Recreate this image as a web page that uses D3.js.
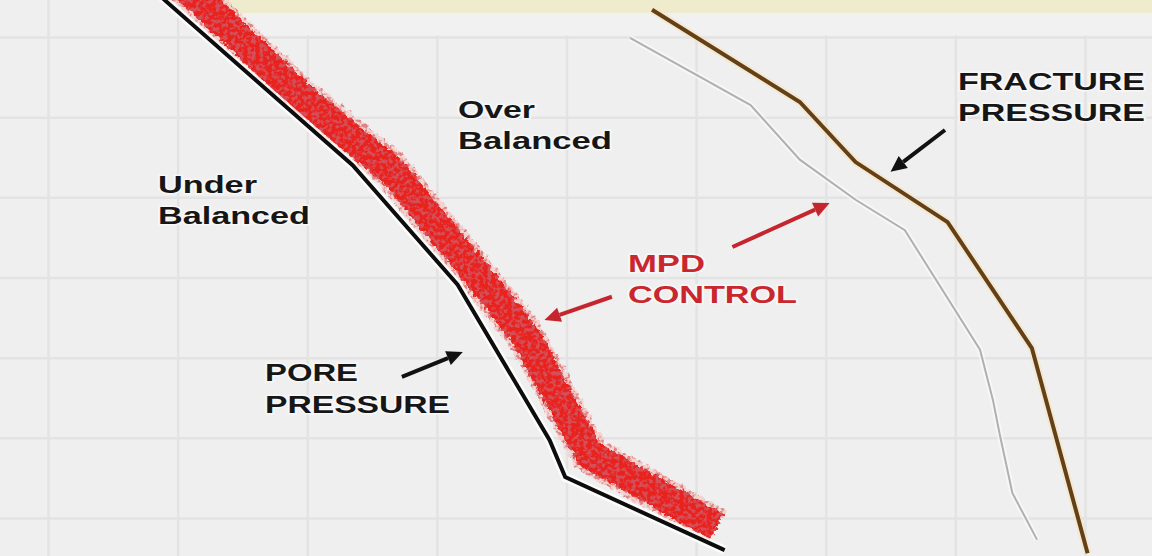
<!DOCTYPE html>
<html lang="en">
<head>
    <meta charset="UTF-8">
    <title>MPD Control</title>
    <script src="https://d3js.org/d3.v7.min.js"></script>
    <style>
        body {
            margin: 0;
            background: #efefef;
            overflow: hidden;
        }
        svg {
            display: block;
        }
        .grid line {
            stroke: #e3e3e3;
            stroke-width: 2.5;
        }
        .grid .domain {
            display: none;
        }
        .label {
            font-family: "Liberation Sans", Arial, sans-serif;
            font-weight: bold;
            font-size: 24px;
            fill: #161616;
            paint-order: stroke;
            stroke: #f7f7f7;
            stroke-width: 3px;
        }
        .label.red {
            fill: #c9262d;
        }
    </style>
</head>
<body>
    <svg></svg>

    <script>
        // pressure (x) / depth (y) readings, in grid units
        const poreX = [0.76, 0.90, 2.35, 3.16, 3.87, 3.99, 5.22];
        const poreY = [0.30, 0.54, 2.60, 4.09, 6.03, 6.49, 7.40];

        const mpdX = [1.00, 1.17, 1.98, 2.65, 3.19, 3.68, 3.99, 4.18, 5.16];
        const mpdY = [0.30, 0.54, 1.79, 2.66, 3.72, 4.72, 5.65, 6.21, 7.11];

        const fracX = [4.66, 5.80, 6.23, 6.94, 7.59, 8.02];
        const fracY = [0.66, 1.81, 2.56, 3.31, 4.88, 7.44];

        const mudX = [4.49, 5.42, 5.80, 6.23, 6.61, 7.19, 7.29, 7.34, 7.44, 7.63];
        const mudY = [1.01, 1.85, 2.53, 3.03, 3.41, 4.90, 5.53, 5.94, 6.69, 7.27];

        const gridXTicks = [0, 1, 2, 3, 4, 5, 6, 7, 8];
        const gridYTicks = [1, 2, 3, 4, 5, 6, 7];

        // annotation arrows in grid units, head at "to"
        const arrows = [
            { from: [2.73, 5.24], to: [3.20, 4.93], color: "#111" },
            { from: [4.35, 4.24], to: [3.83, 4.53], color: "#c5252c" },
            { from: [5.28, 3.62], to: [6.03, 3.07], color: "#c5252c" },
            { from: [6.92, 2.16], to: [6.50, 2.68], color: "#111" }
        ];

        const labelText = ["Over", "Balanced", "Under", "Balanced", "PORE", "PRESSURE", "MPD", "CONTROL", "FRACTURE", "PRESSURE"];

        const width = 1152;
        const height = 556;

        const x = d3.scaleLinear().domain([0, 8]).range([48, 1085]);
        const y = d3.scaleLinear().domain([1, 7]).range([37, 518]);

        const svg = d3.select("svg")
            .attr("width", width)
            .attr("height", height);

        svg.append("rect")
            .attr("width", width)
            .attr("height", height)
            .attr("fill", "#efefef");

        // grid
        svg.append("g")
            .attr("class", "grid")
            .attr("transform", `translate(0,${height})`)
            .call(d3.axisBottom(x).tickValues(gridXTicks).tickSize(-height).tickFormat(""));

        svg.append("g")
            .attr("class", "grid")
            .call(d3.axisLeft(y).tickValues(gridYTicks).tickSize(-width).tickFormat(""));

        // header strip at the top
        svg.append("rect")
            .attr("x", 205).attr("y", 0)
            .attr("width", width - 205).attr("height", y(1) - 1.5)
            .attr("fill", "#f1f1f1");
        svg.append("rect")
            .attr("x", 205).attr("y", 0)
            .attr("width", width - 205).attr("height", 13)
            .attr("fill", "#efebcd");

        const defs = svg.append("defs");

        const rough = defs.append("filter")
            .attr("id", "rough")
            .attr("x", "-10%").attr("y", "-10%")
            .attr("width", "120%").attr("height", "120%");
        rough.append("feTurbulence")
            .attr("type", "fractalNoise")
            .attr("baseFrequency", 0.22)
            .attr("numOctaves", 2)
            .attr("seed", 4)
            .attr("result", "n");
        rough.append("feDisplacementMap")
            .attr("in", "SourceGraphic")
            .attr("in2", "n")
            .attr("scale", 7)
            .attr("xChannelSelector", "R")
            .attr("yChannelSelector", "G")
            .attr("result", "r");
        rough.append("feTurbulence")
            .attr("type", "fractalNoise")
            .attr("baseFrequency", 0.25)
            .attr("numOctaves", 2)
            .attr("seed", 11)
            .attr("result", "n2");
        rough.append("feColorMatrix")
            .attr("in", "n2")
            .attr("type", "matrix")
            .attr("values", "0 0 0 0 0.66  0 0 0 0 0.08  0 0 0 0 0.1  5 0 0 0 -2.3")
            .attr("result", "dark");
        rough.append("feComposite")
            .attr("in", "dark")
            .attr("in2", "r")
            .attr("operator", "in")
            .attr("result", "spots");
        const merge = rough.append("feMerge");
        merge.append("feMergeNode").attr("in", "r");
        merge.append("feMergeNode").attr("in", "spots");

        const line = d3.line()
            .x(d => x(d[0]))
            .y(d => y(d[1]));

        const zip = (a, b) => a.map((v, i) => [v, b[i]]);

        // mud weight (thin grey)
        svg.append("path")
            .attr("d", line(zip(mudX, mudY)))
            .attr("fill", "none")
            .attr("stroke", "#ffffff")
            .attr("stroke-opacity", 0.5)
            .attr("stroke-width", 6);
        svg.append("path")
            .attr("d", line(zip(mudX, mudY)))
            .attr("fill", "none")
            .attr("stroke", "#b0b0b0")
            .attr("stroke-width", 2);

        // fracture pressure
        svg.append("path")
            .attr("d", line(zip(fracX, fracY)))
            .attr("fill", "none")
            .attr("stroke", "#f6e2c0")
            .attr("stroke-opacity", 0.6)
            .attr("stroke-width", 8);
        svg.append("path")
            .attr("d", line(zip(fracX, fracY)))
            .attr("fill", "none")
            .attr("stroke", "#644016")
            .attr("stroke-width", 4);

        // MPD band
        svg.append("path")
            .attr("d", line(zip(mpdX, mpdY)))
            .attr("fill", "none")
            .attr("stroke", "#f7c9c4")
            .attr("stroke-opacity", 0.7)
            .attr("stroke-width", 38)
            .attr("filter", "url(#rough)");
        svg.append("path")
            .attr("d", line(zip(mpdX, mpdY)))
            .attr("fill", "none")
            .attr("stroke", "#e8211b")
            .attr("stroke-width", 29)
            .attr("filter", "url(#rough)");

        // pore pressure
        svg.append("path")
            .attr("d", line(zip(poreX, poreY)))
            .attr("fill", "none")
            .attr("stroke", "#ffffff")
            .attr("stroke-opacity", 0.8)
            .attr("stroke-width", 9);
        svg.append("path")
            .attr("d", line(zip(poreX, poreY)))
            .attr("fill", "none")
            .attr("stroke", "#0d0d0d")
            .attr("stroke-width", 4);

        // arrows
        arrows.forEach(a => {
            const x1 = x(a.from[0]), y1 = y(a.from[1]);
            const x2 = x(a.to[0]), y2 = y(a.to[1]);
            const ang = Math.atan2(y2 - y1, x2 - x1);
            const headLen = 16, headW = 7.5;
            const bx = x2 - headLen * Math.cos(ang), by = y2 - headLen * Math.sin(ang);
            svg.append("line")
                .attr("x1", x1).attr("y1", y1)
                .attr("x2", bx).attr("y2", by)
                .attr("stroke", a.color)
                .attr("stroke-width", 4);
            const px = -Math.sin(ang), py = Math.cos(ang);
            svg.append("path")
                .attr("d", `M${x2},${y2}L${bx + px * headW},${by + py * headW}L${bx - px * headW},${by - py * headW}Z`)
                .attr("fill", a.color);
        });

        // labels: [x, baseline, width]
        const labelPos = [
            [458, 118, 77], [458, 149, 154],
            [158, 193, 99], [158, 224, 152],
            [265, 381, 93], [265, 413, 185],
            [628, 272, 77], [628, 303, 169],
            [958, 90, 187], [958, 121, 187]
        ];

        svg.selectAll("text.label")
            .data(labelText)
            .enter()
            .append("text")
            .attr("class", (d, i) => (i === 6 || i === 7) ? "label red" : "label")
            .attr("x", (d, i) => labelPos[i][0])
            .attr("y", (d, i) => labelPos[i][1])
            .attr("textLength", (d, i) => labelPos[i][2])
            .attr("lengthAdjust", "spacingAndGlyphs")
            .text(d => d);
    </script>
</body>
</html>
